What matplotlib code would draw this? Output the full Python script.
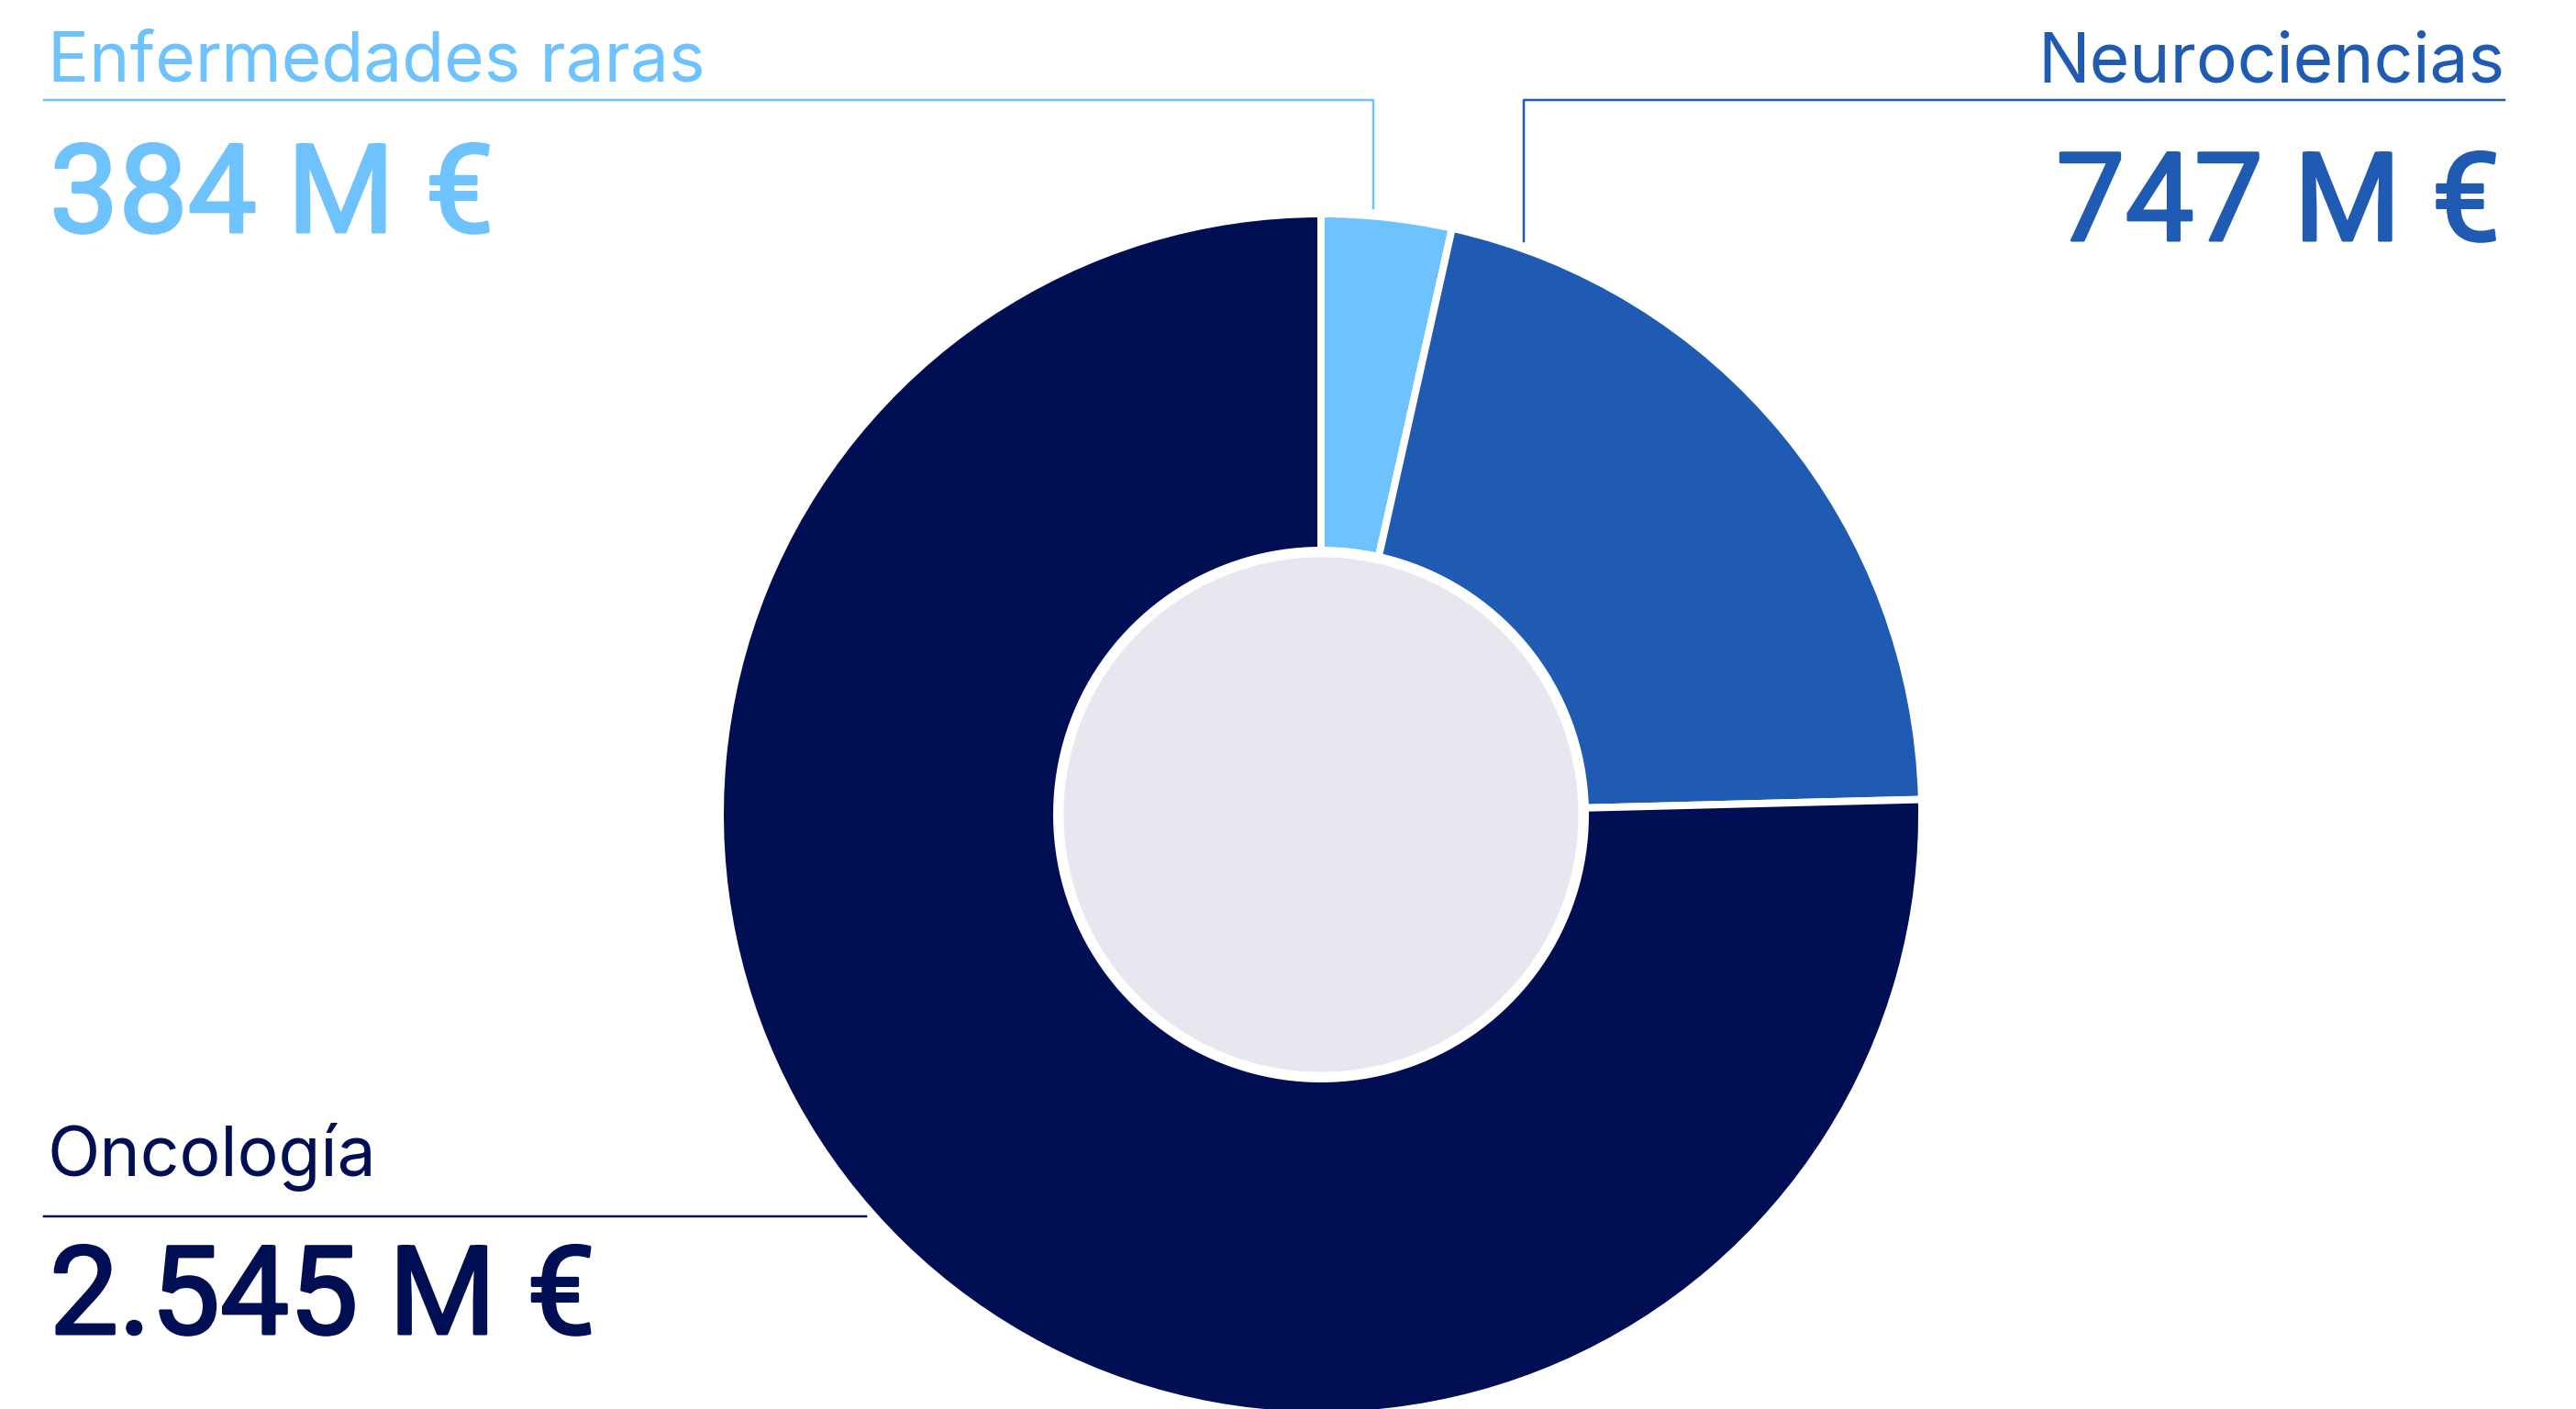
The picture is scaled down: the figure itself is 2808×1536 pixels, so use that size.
import matplotlib
matplotlib.use('Agg')
import matplotlib.pyplot as plt
import matplotlib.patheffects as pe
from matplotlib.patches import Circle

# datos
areas = ['Enfermedades raras', 'Neurociencias', 'Oncología']
importes = ['384 M €', '747 M €', '2.545 M €']
# reparto de los sectores tal como se ve en el gráfico (%)
cuota = [3.5, 21.1, 75.4]
colores = ['#6ec3ff', '#1f5bb2', '#000f54']

W, H = 2808, 1536
DPI = 200
PT = 72 / DPI  # px -> pt

plt.rcParams['font.family'] = ['Inter', 'DejaVu Sans']

fig = plt.figure(figsize=(W / DPI, H / DPI), dpi=DPI)
ax = fig.add_axes([0, 0, 1, 1])

cx, cy = 1440, H - 888
R = 655
r_in = 288

ax.pie(cuota, colors=colores, startangle=90, counterclock=False,
       center=(cx, cy), radius=R,
       wedgeprops=dict(width=R - r_in, edgecolor='white', linewidth=8 * PT))
ax.add_patch(Circle((cx, cy), 284, facecolor='#e6e7ef', edgecolor='white',
                    linewidth=7 * PT, zorder=3))

ax.set_xlim(0, W)
ax.set_ylim(0, H)
ax.set_aspect('equal')
ax.axis('off')

def y(v):
    return H - v

lw = 2.5 * PT
lab = dict(fontsize=75 * PT, fontweight='normal', va='baseline')
val = dict(fontsize=134 * PT, fontweight='normal', va='baseline',
           family=['Roboto', 'DejaVu Sans'])

def valor(x, yy, s, c, ha):
    t = ax.text(x, yy, s, color=c, ha=ha, **val)
    # Roboto Regular es algo fino: se engorda un poco con un trazo
    t.set_path_effects([pe.withStroke(linewidth=3 * PT, foreground=c)])

# Enfermedades raras
ax.plot([48, 1497, 1497], [y(109), y(109), y(227)], color=colores[0], lw=lw)
ax.text(52, y(89), areas[0], color=colores[0], ha='left', **lab)
valor(54, y(253), importes[0], colores[0], 'left')

# Neurociencias
ax.plot([2730, 1661, 1661], [y(109), y(109), y(263)], color=colores[1], lw=lw)
ax.text(2730, y(89), areas[1], color=colores[1], ha='right', **lab)
valor(2726, y(262), importes[1], colores[1], 'right')

# Oncología
ax.plot([48, 944], [y(1326), y(1326)], color=colores[2], lw=lw)
ax.text(52, y(1281), areas[2], color=colores[2], ha='left', **lab)
valor(54, y(1454), importes[2], colores[2], 'left')

fig.savefig('out.png', dpi=DPI, facecolor='white')
